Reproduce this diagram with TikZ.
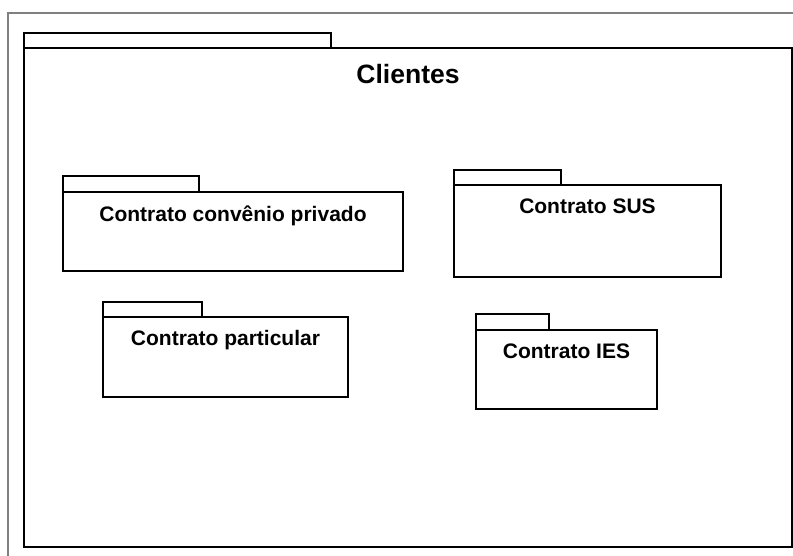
\documentclass[tikz,border=0pt]{standalone}
\usepackage{fontspec}
\setmainfont{Liberation Sans}
\begin{document}
\begin{tikzpicture}[x=0.75pt, y=-0.75pt,
	paket/.style={draw, line width=1.4pt, rectangle, inner sep=0pt, outer sep=0pt, anchor=north west},
	reiter/.style={draw, line width=1.4pt},
	titel/.style={font=\bfseries\fontsize{15.75}{18}\selectfont, anchor=base, inner sep=0pt}]
	\useasboundingbox (0,0) rectangle (793,556);
	% Rahmen
	\draw[gray, line width=1pt] (8,556) -- (8,13) -- (793,13);
	% Paket Clientes
	\node[paket, minimum width=576pt, minimum height=374.25pt] (clientes) at (24,48) {};
	\draw[reiter] (clientes.north west) rectangle ++(307,-15);
	\node[titel, font=\bfseries\fontsize{19.9}{24}\selectfont] (tclientes) at (408,84) {Clientes};
	% Unterpakete
	\node[paket, minimum width=255pt, minimum height=59.25pt] (privado) at (63,192) {};
	\draw[reiter] (privado.north west) rectangle ++(136,-16);
	\node[titel] (tprivado) at (233,221.5) {Contrato convênio privado};
	\node[paket, minimum width=200.25pt, minimum height=69pt] (sus) at (454,185) {};
	\draw[reiter] (sus.north west) rectangle ++(107,-15);
	\node[titel] (tsus) at (587.5,213.5) {Contrato SUS};
	\node[paket, minimum width=183.75pt, minimum height=60pt] (particular) at (103,317) {};
	\draw[reiter] (particular.north west) rectangle ++(99,-15);
	\node[titel] (tparticular) at (225.5,345.5) {Contrato particular};
	\node[paket, minimum width=135.75pt, minimum height=59.25pt] (ies) at (476,330) {};
	\draw[reiter] (ies.north west) rectangle ++(73,-16);
	\node[titel] (ties) at (566.5,358) {Contrato IES};
\end{tikzpicture}
\end{document}
